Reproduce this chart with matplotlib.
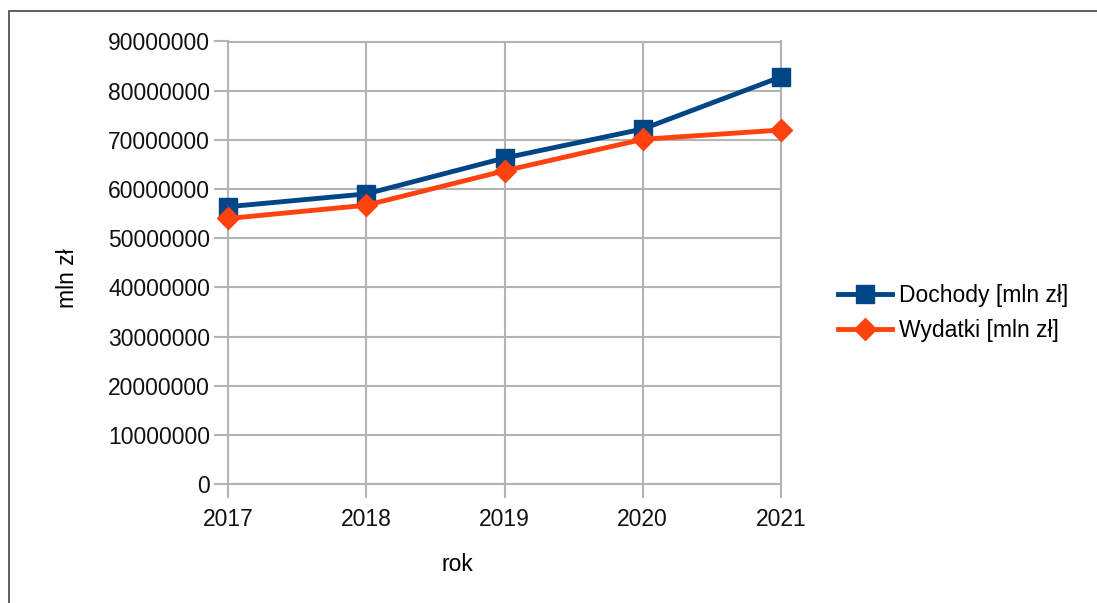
import numpy as np
import matplotlib.pyplot as plt
from matplotlib.patches import Rectangle

plt.rcParams['font.family'] = ['Liberation Sans', 'DejaVu Sans']

lata = [2017, 2018, 2019, 2020, 2021]
dochody = [56400000, 59000000, 66300000, 72200000, 82800000]
wydatki = [54000000, 56700000, 63700000, 70100000, 72000000]
yticks = np.arange(0, 90000001, 10000000)

niebieski = '#004586'
pomarancz = '#ff420e'
siatka = '#b3b3b3'

fig = plt.figure(figsize=(10.97, 6.03), dpi=100)
ax = fig.add_axes([228/1097, 1 - 484/603, (781-228)/1097, (484-41.5)/603])

ax.plot(lata, dochody, color=niebieski, lw=3.5, marker='s', ms=13,
        label='Dochody [mln zł]', zorder=3, clip_on=False)
ax.plot(lata, wydatki, color=pomarancz, lw=3.5, marker='D', ms=11,
        label='Wydatki [mln zł]', zorder=4, clip_on=False)

ax.set_xlim(2017, 2021)
ax.set_ylim(0, 90000000)
ax.set_xticks(lata)
ax.set_yticks(yticks)
ax.set_yticklabels([str(v) for v in yticks])
ax.grid(True, color=siatka, lw=1.5)
ax.set_axisbelow(True)
for s in ax.spines.values():
    s.set_color(siatka)
    s.set_linewidth(1.5)
ax.tick_params(colors=siatka, labelcolor='#111111', labelsize=16.5, length=10, width=1.5)
ax.tick_params(axis='y', pad=3)
ax.tick_params(axis='x', pad=7)

ax.set_xlabel('rok', fontsize=16.5)
ax.set_ylabel('mln zł', fontsize=16.5)
ax.xaxis.set_label_coords(0.414, -0.155)
ax.yaxis.set_label_coords(-0.27, 0.465)

ax.legend(loc='center left', bbox_to_anchor=(838/1097, 1 - 313/603), bbox_transform=fig.transFigure,
          frameon=False, fontsize=16.5, handlelength=2.35, handletextpad=0.3, labelspacing=0.55,
          borderaxespad=0, borderpad=0)

fig.patches.append(Rectangle((9/1097, -0.1), 1.2, 1 - 11/603 + 0.1, transform=fig.transFigure,
                             fill=False, edgecolor='#444444', lw=1.2))

fig.savefig('out.png', dpi=100)
